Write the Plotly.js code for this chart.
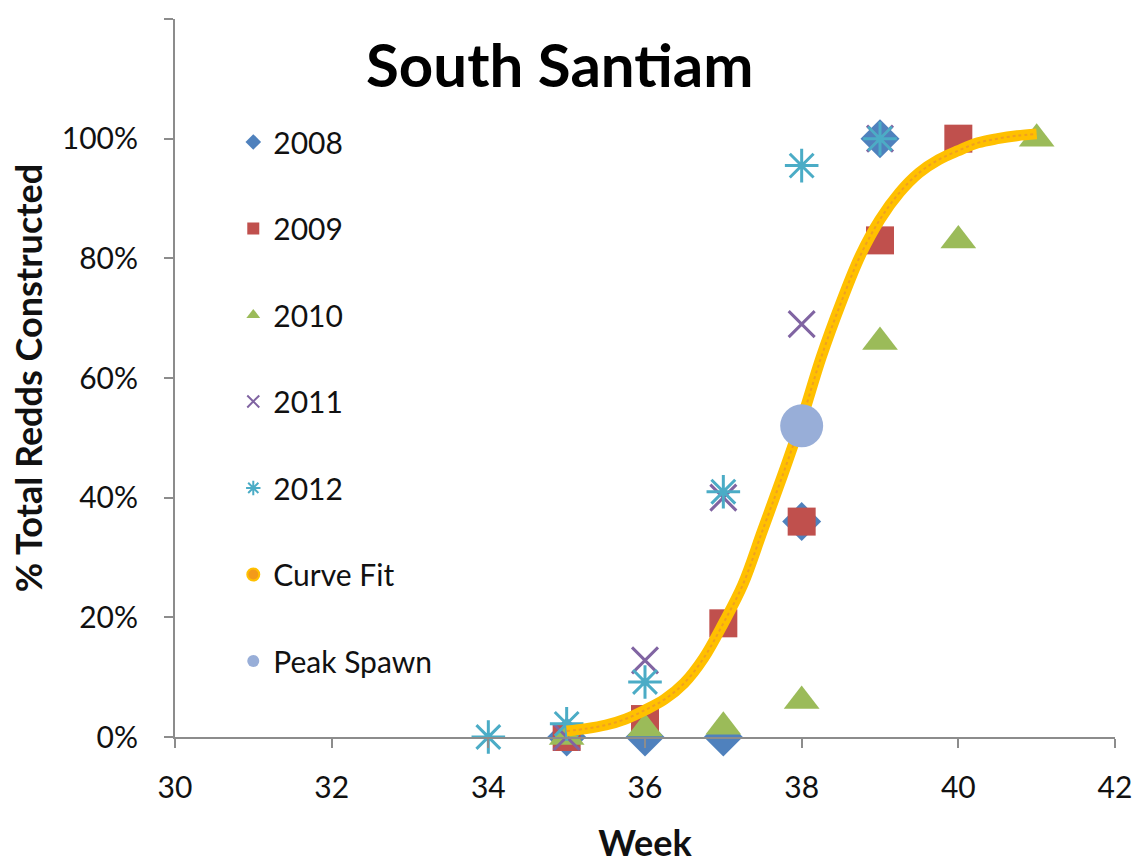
<!DOCTYPE html>
<html>
<head>
<meta charset="utf-8">
<script src="https://cdn.plot.ly/plotly-3.0.1.min.js"></script>
<style>html,body{margin:0;padding:0;background:#fff;}#chart{width:1142px;height:865px;}</style>
</head>
<body>
<div id="chart"></div>
<script>
// Week numbers per series
const weeks2008 = [35, 36, 37, 38, 39];
const pct2008   = [0, 0, 0, 0.36, 1.00];

const weeks2009 = [35, 36, 37, 38, 39, 40];
const pct2009   = [0, 0.03, 0.19, 0.36, 0.83, 1.00];

const weeks2010 = [35, 36, 37, 38, 39, 40, 41];
const pct2010   = [0, 0.014, 0.017, 0.06, 0.66, 0.83, 1.00];

const weeks2011 = [35, 36, 37, 38, 39];
const pct2011   = [0, 0.128, 0.40, 0.69, 1.00];

const weeks2012 = [34, 35, 36, 37, 38, 39];
const pct2012   = [0, 0.022, 0.092, 0.41, 0.955, 1.00];

// Curve fit
const curveWeeks = [35, 35.25, 35.5, 35.75, 36, 36.25, 36.5, 36.75, 37, 37.25, 37.5, 37.75, 38,
                    38.25, 38.5, 38.75, 39, 39.25, 39.5, 39.75, 40, 40.25, 40.5, 40.75, 41];
const curvePct   = [0.010, 0.014, 0.020, 0.030, 0.045, 0.063, 0.090, 0.132, 0.190, 0.255, 0.345, 0.435, 0.530,
                    0.635, 0.725, 0.805, 0.865, 0.910, 0.943, 0.965, 0.980, 0.993, 1.000, 1.005, 1.008];

const peakWeek = [38];
const peakPct  = [0.52];

const titleText = 'South Santiam';
const xTitle = 'Week';
const yTitle = '% Total Redds Constructed';

const FONT = 'Lato, "Open Sans", sans-serif';
const TXT = '#111111';

function mk(name, xs, ys, sym, color, size, extra) {
  return Object.assign({
    type: 'scatter', mode: 'markers', name: name, x: xs, y: ys,
    legendgroup: name, cliponaxis: false,
    marker: {symbol: sym, color: color, size: size}
  }, extra || {});
}

const traces = [
  mk('2008', weeks2008, pct2008, 'diamond', '#4F81BD', 30),
  mk('2009', weeks2009, pct2009, 'square', '#C0504D', 28),
  mk('2010', weeks2010, pct2010, 'triangle-up', '#9BBB59', 31),
  {type:'scatter', mode:'markers', name:'2011', x:weeks2011, y:pct2011, legendgroup:'2011', cliponaxis:false,
   marker:{symbol:'x-thin-open', size:26, color:'#8064A2', line:{color:'#8064A2', width:3}}},
  {type:'scatter', mode:'markers', name:'2012', x:weeks2012, y:pct2012, legendgroup:'2012', cliponaxis:false,
   marker:{symbol:'asterisk-open', size:28, color:'#4BACC6', line:{color:'#4BACC6', width:3}}},
  {type:'scatter', mode:'lines', x:curveWeeks, y:curvePct, showlegend:false, legendgroup:'Curve Fit',
   line:{color:'#FFC000', width:11, shape:'spline'}, hoverinfo:'skip'},
  {type:'scatter', mode:'lines', x:curveWeeks, y:curvePct, showlegend:false, legendgroup:'Curve Fit',
   line:{color:'#F0A020', width:2, shape:'spline', dash:'dot'}, hoverinfo:'skip'},
  {type:'scatter', mode:'markers', name:'Curve Fit', x:[null], y:[null], legendgroup:'Curve Fit',
   marker:{symbol:'circle', size:6, color:'#F39A1A', line:{color:'#FFC000', width:1.5}}},
  mk('Peak Spawn', peakWeek, peakPct, 'circle', '#98AED8', 43)
];

const layout = {
  width: 1142, height: 865,
  margin: {l: 175, r: 27, t: 19, b: 128},
  paper_bgcolor: '#ffffff', plot_bgcolor: '#ffffff',
  font: {family: FONT, color: TXT, size: 28},
  showlegend: true,
  legend: {
    x: 0.062, xanchor: 'left', y: 0.865, yanchor: 'top',
    bgcolor: 'rgba(0,0,0,0)', borderwidth: 0,
    font: {family: FONT, size: 30, color: TXT},
    traceorder: 'grouped', tracegroupgap: 44.5, itemsizing: 'constant'
  },
  xaxis: {
    range: [30, 42], dtick: 2, tick0: 30,
    showline: true, linecolor: '#8C8C8C', linewidth: 2,
    ticks: 'outside', ticklen: 9, tickwidth: 2, tickcolor: '#8C8C8C',
    showgrid: false, zeroline: false,
    tickfont: {family: FONT, size: 30, color: TXT},
    ticklabelstandoff: 14,
    title: {text: '<b>' + xTitle + '</b>', font: {family: FONT, size: 36, color: TXT}, standoff: 28}
  },
  yaxis: {
    range: [0, 1.2], dtick: 0.2, tick0: 0, tickformat: '.0%',
    showline: true, linecolor: '#8C8C8C', linewidth: 2,
    ticks: 'outside', ticklen: 9, tickwidth: 2, tickcolor: '#8C8C8C',
    showgrid: false, zeroline: false,
    tickfont: {family: FONT, size: 30, color: TXT},
    ticklabelstandoff: 20,
    title: {text: '<b>' + yTitle + '</b>', font: {family: FONT, size: 36, color: TXT}, standoff: 8}
  },
  annotations: [{
    text: '<b>' + titleText + '</b>', xref: 'paper', yref: 'paper',
    x: (560 - 175) / 940, y: (736.7 - 64) / 717.4, xanchor: 'center', yanchor: 'middle',
    showarrow: false, font: {family: FONT, size: 60, color: '#000000'}
  }]
};

Plotly.newPlot('chart', traces, layout, {displayModeBar: false, staticPlot: true});
</script>
</body>
</html>
